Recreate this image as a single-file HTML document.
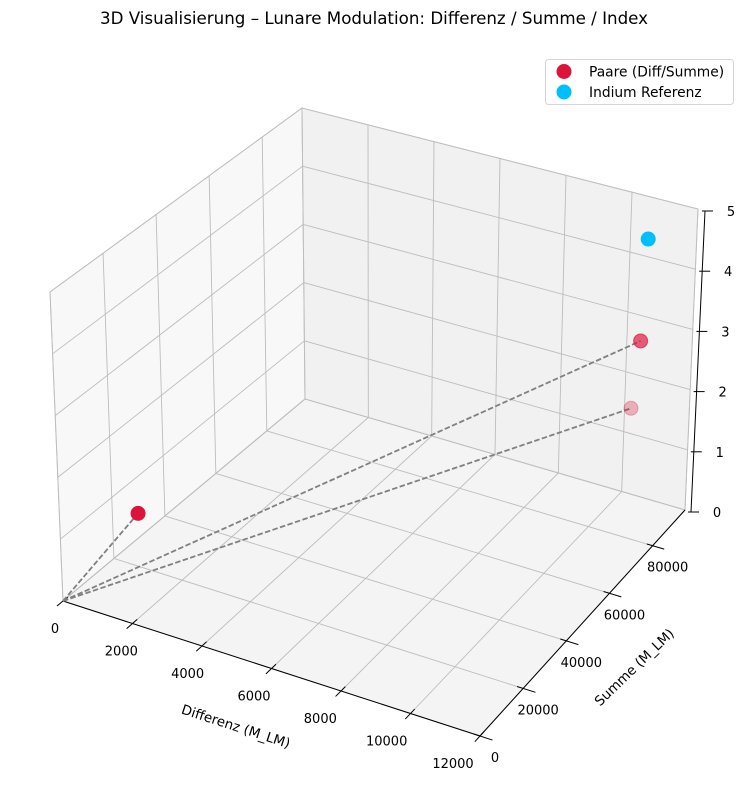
<!DOCTYPE html>
<html><head><meta charset="utf-8"><style>
html,body{margin:0;padding:0;background:#fff}
svg{display:block;font-family:"DejaVu Sans","Liberation Sans",sans-serif}
</style></head><body>
<svg id="chart" width="748" height="790" viewBox="0 0 748 790" xmlns="http://www.w3.org/2000/svg">
<text x="374" y="24" text-anchor="middle" font-size="16.7" fill="#000">3D Visualisierung – Lunare Modulation: Differenz / Summe / Index</text>
<g id="panes"></g><g id="grid"></g><g id="axes"></g><g id="series"></g>
<text x="236" y="731" text-anchor="middle" font-size="13.5" transform="rotate(18 236 726)">Differenz (M_LM)</text>
<text x="634" y="672" text-anchor="middle" font-size="13.5" transform="rotate(-44 634 667)">Summe (M_LM)</text>
<g>
<rect x="545.5" y="59.5" width="188" height="45" rx="3" fill="#fff" stroke="#d6d6d6"/>
<circle cx="564" cy="71.5" r="7.5" fill="#dc143c"/>
<text x="589" y="76.5" font-size="13.8">Paare (Diff/Summe)</text>
<circle cx="564" cy="92" r="7.5" fill="#00bfff"/>
<text x="589" y="97" font-size="13.8">Indium Referenz</text>
</g>
</svg>
<script>
const xTicks=[0,2000,4000,6000,8000,10000,12000];
const yTicks=[0,20000,40000,60000,80000];
const zTicks=[0,1,2,3,4,5];
const pairDiff=[1560,10740,10200];
const pairSum=[9500,90250,95000];
const pairIndex=[1.37,2.8,1.42];
const refDiff=[10860];
const refSum=[90250];
const refIndex=[4.51];
const XMAX=12000,YMAX=95000,ZMAX=5;
const C={p000:[63,601],p100:[480,736],p010:[305,399],p110:[685,510],p001:[50,292],p101:[479,413],p011:[302,108],p111:[698,209]};
function lerp(a,b,t){return [a[0]+(b[0]-a[0])*t,a[1]+(b[1]-a[1])*t];}
function P(x,y,z){const u=x/XMAX,v=y/YMAX,w=z/ZMAX;
 const b0=lerp(C.p000,C.p100,u),b1=lerp(C.p010,C.p110,u),t0=lerp(C.p001,C.p101,u),t1=lerp(C.p011,C.p111,u);
 return lerp(lerp(b0,b1,v),lerp(t0,t1,v),w);}
const NS='http://www.w3.org/2000/svg';
function mk(tag,parent,attrs){const e=document.createElementNS(NS,tag);for(const k in attrs)e.setAttribute(k,attrs[k]);document.getElementById(parent).appendChild(e);return e;}
function line(parent,a,b,stroke,w){return mk('line',parent,{x1:a[0],y1:a[1],x2:b[0],y2:b[1],stroke:stroke,'stroke-width':w});}
function poly(pts){return pts.map(p=>p.join(',')).join(' ');}
let e;
e=mk('polygon','panes',{points:poly([P(0,0,0),P(0,YMAX,0),P(0,YMAX,ZMAX),P(0,0,ZMAX)]),fill:'#f8f8f8',stroke:'#c8c8c8','stroke-width':1});


e=mk('polygon','panes',{points:poly([P(0,YMAX,0),P(XMAX,YMAX,0),P(XMAX,YMAX,ZMAX),P(0,YMAX,ZMAX)]),fill:'#f1f1f1',stroke:'#c8c8c8','stroke-width':1});


e=mk('polygon','panes',{points:poly([P(0,0,0),P(XMAX,0,0),P(XMAX,YMAX,0),P(0,YMAX,0)]),fill:'#f4f4f4',stroke:'#c8c8c8','stroke-width':1});


const G='#bdbdbd';
xTicks.forEach(x=>{e=line('grid',P(x,0,0),P(x,YMAX,0),G,0.9);


e=line('grid',P(x,YMAX,0),P(x,YMAX,ZMAX),G,0.9);

});
yTicks.forEach(y=>{e=line('grid',P(0,y,0),P(XMAX,y,0),G,0.9);


e=line('grid',P(0,y,0),P(0,y,ZMAX),G,0.9);

});
zTicks.forEach(z=>{e=line('grid',P(0,0,z),P(0,YMAX,z),G,0.9);


e=line('grid',P(0,YMAX,z),P(XMAX,YMAX,z),G,0.9);

});
e=line('axes',P(0,0,0),P(XMAX,0,0),'#000',1);


e=line('axes',P(XMAX,0,0),P(XMAX,YMAX,0),'#000',1);


const za=P(XMAX,YMAX,0),zb=P(XMAX,YMAX,ZMAX);
e=line('axes',[za[0]+6,za[1]+2],[zb[0]+7,zb[1]+2],'#000',1);


function txt(parent,x,y,s,anchor){const t=mk('text',parent,{x:x,y:y,'font-size':13,'text-anchor':anchor||'middle',fill:'#000'});t.textContent=s;return t;}
xTicks.forEach(x=>{const a=P(x,-YMAX*0.025,0),b=P(x,YMAX*0.02,0);
e=line('axes',a,b,'#000',1);


const p=P(x,0,0);
e=txt('axes',p[0]-8-19*(x/XMAX),p[1]+32,String(x));

});
yTicks.forEach(y=>{const a=P(XMAX*1.03,y,0),b=P(XMAX*0.985,y,0);
e=line('axes',a,b,'#000',1);


const p=P(XMAX,y,0);
e=txt('axes',p[0]+15,p[1]+26,String(y));

});
zTicks.forEach(z=>{const p=P(XMAX,YMAX,z);const bx=p[0]+6+z/ZMAX,by=p[1]+2;
e=line('axes',[bx-3,by],[bx+8,by],'#000',1);


e=txt('axes',bx+26,by+5,String(z));

});
pairDiff.forEach((d,i)=>{e=line('series',P(0,0,0),P(d,pairSum[i],pairIndex[i]),'#808080',1.8);
e.setAttribute('stroke-dasharray','5.5,2.4');

});
const depth=pairDiff.map((d,i)=>0.433*d/XMAX-0.75*pairSum[i]/YMAX+0.5*pairIndex[i]/ZMAX);
const dmax=Math.max(...depth),dmin=Math.min(...depth);
const order=pairDiff.map((_,i)=>i).sort((a,b)=>depth[a]-depth[b]);
order.forEach(i=>{const p=P(pairDiff[i],pairSum[i],pairIndex[i]);
const a=dmax>dmin?0.3+0.7*(depth[i]-dmin)/(dmax-dmin):1;
e=mk('circle','series',{cx:p[0],cy:p[1],r:7,fill:'#dc143c','fill-opacity':a,stroke:'#dc143c','stroke-opacity':a,'stroke-width':1});

});
refDiff.forEach((d,i)=>{const p=P(d,refSum[i],refIndex[i]);
e=mk('circle','series',{cx:p[0],cy:p[1],r:7.5,fill:'#00bfff'});

});
</script>
</body></html>
